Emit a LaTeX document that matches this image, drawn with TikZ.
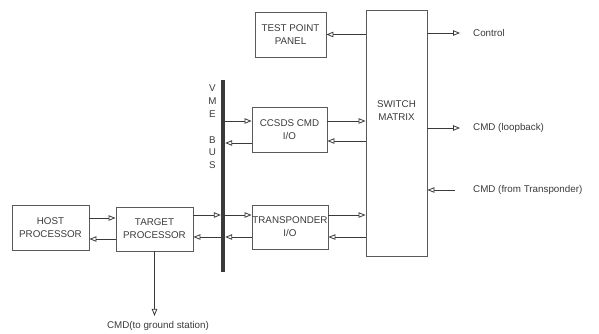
\documentclass[tikz,border=0pt]{standalone}
\usepackage{fontspec}
\setmainfont{Liberation Sans}
\usetikzlibrary{arrows.meta}
\definecolor{linegray}{HTML}{3A3A3A}
\definecolor{boxgray}{HTML}{5A5A5A}
\begin{document}
\begin{tikzpicture}[x=1pt,y=-1pt,>={Triangle[open,length=7pt,width=5.5pt]},
    every node/.style={text=linegray,font=\fontsize{9.8}{13}\selectfont},
    blk/.style={draw=boxgray,line width=0.9pt,align=center,inner sep=0pt},
    sig/.style={->,draw=linegray,line width=0.8pt},
    lbl/.style={anchor=west,inner sep=1pt}]
  \useasboundingbox (0,0) rectangle (599,333);

  % Draw the processor boxes
  \node[blk,minimum width=77pt,minimum height=45pt] at (50.5,227.5) (host) {HOST\\PROCESSOR};
  \node[blk,minimum width=77pt,minimum height=44pt] at (154.5,229) (tgt) {TARGET\\PROCESSOR};

  % Draw the VME bus
  \node[fill=linegray,minimum width=4pt,minimum height=192pt,inner sep=0pt] at (223,176) (bus) {};
  \node[align=center,font=\fontsize{9.8}{12.8}\selectfont] at (212.5,127) (bustxt) {V\\M\\E\\[12.8pt]B\\U\\S};

  % Draw the I/O boxes and the switch matrix
  \node[blk,minimum width=71pt,minimum height=45pt] at (290.5,34.5) (tpp) {TEST POINT\\PANEL};
  \node[blk,minimum width=75pt,minimum height=45pt] at (289.5,129.5) (ccsds) {CCSDS CMD\\I/O};
  \node[blk,minimum width=76pt,minimum height=44pt] at (290,227) (xpdr) {TRANSPONDER\\I/O};
  \node[blk,minimum width=61pt,minimum height=246pt] at (396.5,133) (sw) {};
  \node[align=center] at ([yshift=22pt]sw.center) (swtxt) {SWITCH\\MATRIX};

  % Draw the outside signals
  \node[lbl] at (472,33) (ctrl) {Control};
  \node[lbl] at (472,128) (loop) {CMD (loopback)};
  \node[lbl] at (472,190) (fromx) {CMD (from Transponder)};
  \node at (158,326) (gnd) {CMD(to ground station)};

  % Signal levels
  \coordinate (h1) at ([yshift=9.5pt]host.east);
  \coordinate (h2) at ([yshift=-11.5pt]host.east);
  \coordinate (t1) at ([yshift=14pt]tgt.east);
  \coordinate (t2) at ([yshift=-8pt]tgt.east);
  \coordinate (x1) at ([yshift=12pt]xpdr.west);
  \coordinate (x2) at ([yshift=-10pt]xpdr.west);
  \coordinate (x3) at ([yshift=12pt]xpdr.east);
  \coordinate (x4) at ([yshift=-10pt]xpdr.east);
  \coordinate (c1) at ([yshift=8.5pt]ccsds.west);
  \coordinate (c2) at ([yshift=-13.5pt]ccsds.west);
  \coordinate (c3) at ([yshift=8.5pt]ccsds.east);
  \coordinate (c4) at ([yshift=-11.5pt]ccsds.east);

  % Draw the arrows
  \draw[sig] (h1) -- (h1 -| tgt.west);
  \draw[sig] (h2 -| tgt.west) -- (h2);
  \draw[sig] (t1) -- (t1 -| bus.west);
  \draw[sig] (t2 -| bus.west) -- (t2);
  \draw[sig] (x1 -| bus.east) -- (x1);
  \draw[sig] (x2) -- (x2 -| bus.east);
  \draw[sig] (x3) -- (x3 -| sw.west);
  \draw[sig] (x4 -| sw.west) -- (x4);
  \draw[sig] (c1 -| bus.east) -- (c1);
  \draw[sig] (c2) -- (c2 -| bus.east);
  \draw[sig] (c3) -- (c3 -| sw.west);
  \draw[sig] (c4 -| sw.west) -- (c4);
  \draw[sig] (sw.west |- tpp.east) -- (tpp.east);
  \draw[sig] (sw.east |- ctrl.west) -- ([xshift=-12pt]ctrl.west);
  \draw[sig] (sw.east |- loop.west) -- ([xshift=-12pt]loop.west);
  \draw[sig] ([xshift=-17pt]fromx.west) -- (sw.east |- fromx.west);
  \draw[sig,shorten >=2pt] (tgt.south) -- (tgt.south |- gnd.north);
\end{tikzpicture}
\end{document}
